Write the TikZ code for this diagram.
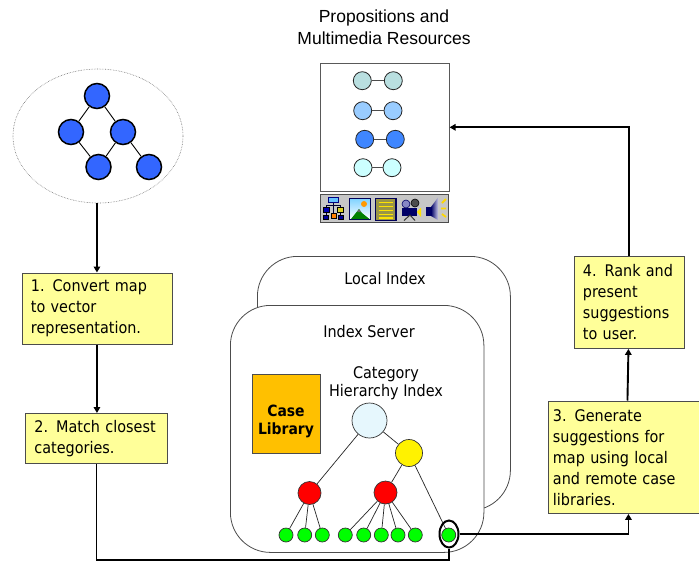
\documentclass[tikz,border=0pt]{standalone}
\usepackage{fontspec}
\setmainfont{DejaVu Sans Condensed}
\newfontfamily\titlefont{Liberation Sans}
\usetikzlibrary{arrows.meta,shapes.geometric,calc}
\definecolor{noteyellow}{HTML}{FFFF99}
\definecolor{mapblue}{HTML}{3366FF}
\definecolor{casegold}{HTML}{FFC000}
\tikzset{
  notebox/.style={draw=black!70,line width=0.9pt,fill=noteyellow,anchor=north west,align=left,inner xsep=0pt,inner ysep=0pt,font=\fontsize{16}{21}\selectfont},
  flow/.style={line width=1.9pt,black},
  flowtip/.style={flow,-{Triangle[length=6pt,width=6.5pt]}},
  mapnode/.style={circle,draw=black,line width=1.5pt,fill=mapblue,inner sep=0pt,minimum size=25pt},
  mapedge/.style={line width=0.9pt,black},
  prop/.style={circle,draw=black!85,line width=0.8pt,inner sep=0pt,minimum size=18pt},
  propedge/.style={line width=0.9pt,black!70},
  tree/.style={circle,draw=black!80,line width=0.7pt,inner sep=0pt},
  leaf/.style={tree,fill=green,minimum size=14pt},
  redn/.style={tree,fill=red,minimum size=23pt},
  treeedge/.style={line width=0.7pt,black!85},
  panel/.style={draw=black!70,line width=0.8pt,fill=white,rounded corners=40pt,anchor=north west,inner sep=0pt},
  plain/.style={font=\fontsize{16}{18}\selectfont,align=center,inner sep=0pt},
}
\begin{document}
\begin{tikzpicture}[x=1pt,y=-1pt]
\useasboundingbox (0,0) rectangle (699,563);
% title
\node[font=\titlefont\fontsize{17.5}{22}\selectfont,align=center,inner sep=0pt] (title) at (384,27) {Propositions and\\Multimedia Resources};
% map
\node[ellipse,draw=black!55,densely dotted,line width=0.6pt,minimum width=170pt,minimum height=134pt,inner sep=0pt] (map) at (98,136) {};
\node[mapnode] (m1) at (97,96) {};
\node[mapnode] (m2) at (71,132) {};
\node[mapnode] (m3) at (123,132) {};
\node[mapnode] (m4) at (98.5,167) {};
\node[mapnode] (m5) at (149,167) {};
\draw[mapedge] (m1)--(m2) (m1)--(m3) (m2)--(m4) (m3)--(m4) (m3)--(m5);
% panels
\node[panel,minimum width=253pt,minimum height=254pt] (local) at (257,256) {};
\node[panel,minimum width=253.5pt,minimum height=247pt] (server) at (230,305) {};
\node[plain] (locallabel) at (385,279) {Local Index};
\node[plain] (serverlabel) at (369,332) {Index Server};
\node[plain] (catlabel) at (386,383) {Category\\Hierarchy Index};
% case library
\node[cylinder,shape border rotate=90,aspect=1,draw=black!70,line width=0.8pt,fill=casegold,cylinder uses custom fill,cylinder body fill=casegold,cylinder end fill=casegold,minimum width=68pt,minimum height=79pt,inner sep=0pt] (case) at (286,414.5) {};
\node[font=\bfseries\fontsize{15.5}{18}\selectfont,align=center,inner sep=0pt] (caselabel) at (286,421) {Case\\Library};
% tree
\node[tree,fill=cyan!10,minimum size=35pt] (root) at (369.5,420.5) {};
\node[tree,fill=yellow,minimum size=27pt] (yel) at (409,453) {};
\node[redn] (r1) at (309.5,493) {};
\node[redn] (r2) at (385.5,492.5) {};
\foreach \n/\x in {1/286,2/304.7,3/322.3,4/345.3,5/363.7,6/381.3,7/398,8/415.3,9/448.7}
  \node[leaf] (g\n) at (\x,535) {};
\draw[treeedge] (root)--(yel) (root)--(r1) (yel)--(r2) (yel)--(g9)
  (r1)--(g1) (r1)--(g2) (r1)--(g3)
  (r2)--(g4) (r2)--(g5) (r2)--(g6) (r2)--(g7) (r2)--(g8);
\node[ellipse,draw=black,line width=2pt,minimum width=19pt,minimum height=27pt,inner sep=0pt] (ring) at (449,534) {};
% propositions box
\node[draw=black!65,line width=1.1pt,fill=white,anchor=north west,minimum width=129pt,minimum height=127.5pt,inner sep=0pt] (props) at (319.5,63) {};
\foreach \n/\xa/\xb/\y/\c in {1/362.3/393.3/80.7/B9DFE0,2/362.7/393/110.7/99CCFF,3/364.7/395.3/139.3/3F86FF,4/363/392/167.7/CCFFFF}{
  \definecolor{pc}{HTML}{\c}
  \node[prop,fill=pc] (pa\n) at (\xa,\y) {};
  \node[prop,fill=pc] (pb\n) at (\xb,\y) {};
  \draw[propedge] (pa\n)--(pb\n);
}
% toolbar
\node[draw=black!70,line width=1pt,fill=black!22,anchor=north west,minimum width=128pt,minimum height=28pt,inner sep=0pt] (bar) at (320,194) {};
% icon 1: hierarchy
\draw[line width=0.8pt,black!80!blue] (333,202)--(333,207) (326,207)--(326,205)--(340,205)--(340,207) (333,205)--(333,213) (326,212)--(326,215) (340,212)--(340,215);
\draw[fill=blue!40!cyan!60,draw=blue!50!black,line width=0.6pt] (328,197) rectangle (338,202);
\draw[fill=blue!70!black,draw=black,line width=0.5pt] (323,207) rectangle (329,212);
\draw[fill=yellow!85!black,draw=black,line width=0.5pt] (337,207) rectangle (343,212);
\draw[fill=orange,draw=black,line width=0.5pt] (331,213) rectangle (336,218);
\draw[fill=blue!60!black,draw=black,line width=0.5pt] (323,215) rectangle (328,219.5);
\draw[fill=blue!60!black,draw=black,line width=0.5pt] (338,215) rectangle (343,219.5);
% icon 2: picture
\draw[top color=blue!35!cyan!50,bottom color=white,draw=blue!35!black,line width=1pt] (349.5,198.5) rectangle (370.5,219.5);
\fill[orange!80!yellow] (364,204) circle (3pt);
\fill[green!50!black] (351,219) -- (359,209) -- (362,213) -- (369.5,219) -- cycle;
\fill[black!60] (357,212) -- (359,209) -- (361,212) -- cycle;
% icon 3: list
\draw[fill=yellow!55!black,draw=blue!35!black,line width=1.2pt] (375.5,198.5) rectangle (396,220.5);
\foreach \y in {202.5,206.5,210.5,214.5,218}
  \draw[yellow!85!orange,line width=1.3pt] (378.5,\y)--(393,\y);
% icon 4: camera
\draw[fill=blue!35!gray!70,draw=blue!40!black,line width=0.6pt] (406,204) circle (4pt);
\draw[fill=black!70,draw=black,line width=0.6pt] (415,203) circle (4pt);
\fill[blue!40!black] (402,208) rectangle (417,215.5);
\fill[yellow!85!orange] (417,212) -- (421,207.5) -- (421,217) -- cycle;
\draw[black!80,line width=1pt] (410,215)--(404,220.5) (410,215)--(415,220.5);
% icon 5: speaker
\fill[blue!40!black] (426,207) rectangle (431,216);
\shade[left color=blue!40!black,right color=blue!15!white!80!gray] (431,207) -- (438,197.5) -- (438,220) -- (431,216) -- cycle;
\draw[yellow!75!orange,line width=1.8pt] (442,203)--(446,199) (441,208.5)--(446,208.5) (442,214)--(446,217);
% step boxes
\node[notebox,minimum width=150pt,minimum height=71.5pt,text width=132pt] (s1) at (21.5,272.5) {1. Convert map\\to vector\\representation.};
\node[notebox,minimum width=142pt,minimum height=50pt,text width=124pt] (s2) at (25,413) {2. Match closest\\categories.};
\node[notebox,minimum width=153pt,minimum height=112.5pt,text width=144pt] (s3) at (548,400.5) {3. Generate\\suggestions for\\map using local\\and remote case\\libraries.};
\node[notebox,minimum width=110pt,minimum height=92pt,text width=92pt] (s4) at (573.5,256) {4. Rank and\\present\\suggestions\\to user.};
% connectors
\coordinate (bus) at (449,560);
\draw[flowtip] (map.south -| s1.north) -- (s1.north);
\draw[flowtip] (s1.south) -- (s1.south |- s2.north);
\draw[flow] (s2.south) |- (bus) -- (ring.south);
\draw[flowtip] (ring.east) -| ([xshift=3.5pt]s3.south);
\draw[flowtip] ([xshift=2.5pt]s3.north) -- ([xshift=-0.5pt]s4.south);
\draw[flowtip] (s4.north) |- (props.east);
\end{tikzpicture}
\end{document}
